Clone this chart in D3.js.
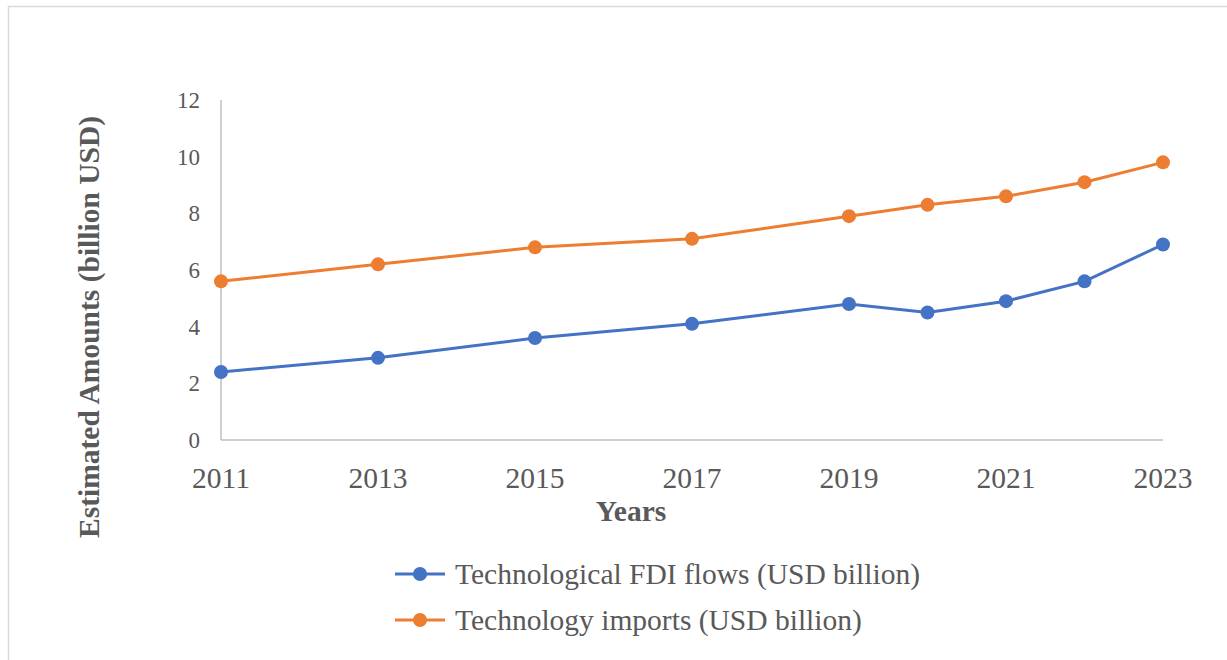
<!DOCTYPE html>
<html>
<head>
<meta charset="utf-8">
<script src="https://cdn.jsdelivr.net/npm/d3@7"></script>
<style>
  body { margin: 0; background: #fff; }
  text { font-family: "Liberation Serif", "Times New Roman", serif; }
</style>
</head>
<body>
<div id="grafica"></div>
<script>
var years = [2011, 2013, 2015, 2017, 2019, 2020, 2021, 2022, 2023];
var fdiFlows = [2.4, 2.9, 3.6, 4.1, 4.8, 4.5, 4.9, 5.6, 6.9];
var techImports = [5.6, 6.2, 6.8, 7.1, 7.9, 8.3, 8.6, 9.1, 9.8];
var xTicks = [2011, 2013, 2015, 2017, 2019, 2021, 2023];
var yTicks = [0, 2, 4, 6, 8, 10, 12];
var seriesNames = ["Technological FDI flows (USD billion)", "Technology imports (USD billion)"];
var colors = ["#4472C4", "#ED7D31"];

var W = 1227, H = 660;
var margin = {top: 100, right: 64, bottom: 220, left: 221};
var width = W - margin.left - margin.right,
    height = H - margin.top - margin.bottom;

var svg = d3.select("#grafica")
            .append("svg")
            .attr("width", W)
            .attr("height", H);

// outer frame
svg.append("rect")
  .attr("x", 8.5).attr("y", 6.5)
  .attr("width", W).attr("height", H)
  .attr("fill", "none")
  .attr("stroke", "#d9d9d9")
  .attr("stroke-width", 1.5);

var g = svg.append("g")
           .attr("transform", "translate(" + margin.left + "," + margin.top + ")");

var x = d3.scaleLinear()
          .domain([2011, 2023])
          .range([0, width]);

var y = d3.scaleLinear()
          .domain([0, 12])
          .range([height, 0]);

// axes lines
g.append("line")
  .attr("x1", 0).attr("x2", width)
  .attr("y1", y(0)).attr("y2", y(0))
  .attr("stroke", "#bfbfbf").attr("stroke-width", 1.5);
g.append("line")
  .attr("x1", 0).attr("x2", 0)
  .attr("y1", y(0)).attr("y2", y(12))
  .attr("stroke", "#bfbfbf").attr("stroke-width", 1.5);

// y tick labels
g.selectAll(".ytick")
  .data(yTicks)
  .enter()
  .append("text")
    .attr("x", -21)
    .attr("y", function(d) { return y(d); })
    .attr("dy", "0.35em")
    .attr("text-anchor", "end")
    .attr("fill", "#595959")
    .style("font-size", "23px")
    .text(function(d) { return d; });

// x tick labels
g.selectAll(".xtick")
  .data(xTicks)
  .enter()
  .append("text")
    .attr("x", function(d) { return x(d); })
    .attr("y", height + 48)
    .attr("text-anchor", "middle")
    .attr("fill", "#595959")
    .style("font-size", "29.5px")
    .text(function(d) { return d; });

// axis titles
svg.append("text")
  .attr("x", 631).attr("y", 521)
  .attr("text-anchor", "middle")
  .attr("fill", "#595959")
  .style("font-size", "29.5px")
  .style("font-weight", "bold")
  .text("Years");

svg.append("text")
  .attr("transform", "translate(99,327)rotate(-90)")
  .attr("text-anchor", "middle")
  .attr("fill", "#595959")
  .style("font-size", "29.5px")
  .style("font-weight", "bold")
  .text("Estimated Amounts (billion USD)");

var line = d3.line()
             .x(function(d) { return x(d[0]); })
             .y(function(d) { return y(d[1]); });

[fdiFlows, techImports].forEach(function(vals, i) {
  var pts = years.map(function(yr, j) { return [yr, vals[j]]; });
  g.append("path")
    .datum(pts)
    .attr("d", line)
    .attr("fill", "none")
    .attr("stroke", colors[i])
    .attr("stroke-width", 3);
  g.selectAll(".pt" + i)
    .data(pts)
    .enter()
    .append("circle")
      .attr("cx", function(d) { return x(d[0]); })
      .attr("cy", function(d) { return y(d[1]); })
      .attr("r", 7)
      .attr("fill", colors[i]);
});

// legend
var legend = svg.append("g");
seriesNames.forEach(function(name, i) {
  var ly = 574 + i * 46;
  legend.append("line")
    .attr("x1", 395).attr("x2", 445)
    .attr("y1", ly).attr("y2", ly)
    .attr("stroke", colors[i]).attr("stroke-width", 3);
  legend.append("circle")
    .attr("cx", 420).attr("cy", ly).attr("r", 7)
    .attr("fill", colors[i]);
  legend.append("text")
    .attr("x", 455).attr("y", ly)
    .attr("dy", "0.35em")
    .attr("fill", "#595959")
    .style("font-size", "29.5px")
    .text(name);
});
</script>
</body>
</html>
